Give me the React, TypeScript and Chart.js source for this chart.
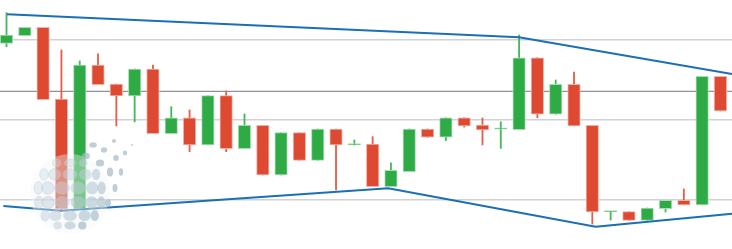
import React, { useEffect, useRef } from "react";
import { Chart, registerables } from "chart.js";

Chart.register(...registerables);

// ---- Data (EURUSD-like candles) ----
const opens = [
  1.12979, 1.13027, 1.13079, 1.12631, 1.11944, 1.12844, 1.12725, 1.1265, 1.12819, 1.12414,
  1.12514, 1.12344, 1.12652, 1.12321, 1.12467, 1.12156, 1.12421, 1.12248, 1.12444, 1.12344,
  1.1235, 1.12083, 1.12177, 1.12444, 1.12392, 1.12514, 1.12469, 1.12442, 1.12439, 1.12889,
  1.12536, 1.12723, 1.12467, 1.11925, 1.11927, 1.11873, 1.11946, 1.11998, 1.11969, 1.12773,
];
const highs = [
  1.13171, 1.13079, 1.13079, 1.12938, 1.12869, 1.12913, 1.12725, 1.12819, 1.12844, 1.12583,
  1.12563, 1.12652, 1.12681, 1.12538, 1.12467, 1.12421, 1.12421, 1.12444, 1.12444, 1.12375,
  1.12396, 1.12233, 1.12444, 1.12444, 1.12514, 1.12514, 1.12513, 1.12489, 1.13031, 1.12889,
  1.1275, 1.128, 1.12467, 1.11929, 1.11927, 1.1195, 1.11998, 1.12069, 1.12773, 1.12773,
];
const lows = [
  1.12958, 1.13027, 1.12627, 1.11927, 1.11944, 1.12721, 1.12463, 1.12488, 1.12414, 1.12414,
  1.12302, 1.12344, 1.12302, 1.12321, 1.12156, 1.12156, 1.12248, 1.12248, 1.12063, 1.12344,
  1.12083, 1.12083, 1.12177, 1.12392, 1.12371, 1.12456, 1.12344, 1.12323, 1.12439, 1.12514,
  1.12536, 1.12463, 1.1185, 1.11875, 1.11873, 1.11873, 1.11925, 1.11969, 1.11969, 1.12556,
];
const closes = [
  1.13031, 1.13079, 1.12627, 1.11944, 1.12844, 1.12721, 1.1265, 1.12819, 1.12414, 1.12514,
  1.12344, 1.12652, 1.12321, 1.12467, 1.12156, 1.12421, 1.12248, 1.12444, 1.12344, 1.12348,
  1.12083, 1.12186, 1.12444, 1.12392, 1.12514, 1.12463, 1.12438, 1.12446, 1.12889, 1.12536,
  1.12723, 1.12463, 1.11925, 1.11928, 1.11873, 1.1195, 1.11998, 1.11969, 1.12773, 1.12556,
];

// trend lines: [candle position, price]
const upperTrendX = [0.03, 27.99, 39.63];
const upperTrendY = [1.13161, 1.13017, 1.12788];
const lowerTrendX = [-0.17, 2.98, 20.85, 32.18, 39.63];
const lowerTrendY = [1.11963, 1.11933, 1.12073, 1.11833, 1.11914];

// horizontal price level
const priceLevel = 1.12679;
// grid levels
const gridLevels = [1.12, 1.125, 1.13];

const X_MIN = -0.355;
const X_MAX = 39.63;
const Y_MIN = 1.1169375;
const Y_MAX = 1.1325;

const RED = "#dd4a31";
const GREEN = "#2eab44";
const RED_EDGE = "#f2b1a6";
const GREEN_EDGE = "#a9dcb2";
const RED_WICK = "#e2614d";
const GREEN_WICK = "#48b95a";
const BLUE = "#1a6fb5";

const globePlugin = {
  id: "globeWatermark",
  afterDatasetsDraw(chart: any) {
    const ctx = chart.ctx as CanvasRenderingContext2D;
    const cx = 70;
    const cy = 194;
    const R = 35;
    ctx.save();
    // faint sphere body
    ctx.fillStyle = "rgba(240,244,247,0.4)";
    ctx.beginPath();
    ctx.arc(cx, cy, R + 5, 0, Math.PI * 2);
    ctx.fill();
    const lats = [-62, -34, -10, 14, 38, 64];
    for (const lat of lats) {
      const lr = (lat * Math.PI) / 180;
      const n = Math.max(3, Math.round(5 * Math.cos(lr)) + 1);
      for (let k = 0; k < n; k++) {
        const lon = -80 + (160 * (k + 0.5)) / n;
        const lo = (lon * Math.PI) / 180;
        const x = cx + R * Math.cos(lr) * Math.sin(lo);
        const y = cy + R * Math.sin(lr);
        const rx = 2 + 5.5 * Math.cos(lo) * Math.sqrt(Math.cos(lr));
        const ry = 2 + 4.4 * Math.cos(lr);
        const t = (lon + 80) / 160 * 0.6 + ((lat + 62) / 126) * 0.4;
        const a = 0.32 + 0.45 * t;
        ctx.fillStyle = `rgba(${Math.round(215 - 52 * t)},${Math.round(225 - 40 * t)},${Math.round(232 - 34 * t)},${a})`;
        ctx.beginPath();
        ctx.ellipse(x, y, rx, ry, 0, 0, Math.PI * 2);
        ctx.fill();
        if (t < 0.45) {
          ctx.strokeStyle = "rgba(180,195,205,0.45)";
          ctx.lineWidth = 0.8;
          ctx.stroke();
        }
      }
    }
    // trailing particles
    const trail = [
      [93, 145, 3.8, 2.8], [104, 150, 3.2, 2.8], [114, 141, 2, 2], [125, 153, 2.2, 2.4],
      [132, 145, 1, 1], [86, 156, 4, 3.2], [100, 163, 4.2, 3.6], [110, 172, 3.2, 4.5],
      [121, 172, 2.2, 3.8], [115, 188, 2.5, 4], [108, 203, 3, 4], [116, 158, 2.8, 3],
    ];
    for (const [x, y, rx, ry] of trail) {
      ctx.fillStyle = "rgba(165,185,198,0.7)";
      ctx.beginPath();
      ctx.ellipse(x, y, rx, ry, 0, 0, Math.PI * 2);
      ctx.fill();
    }
    ctx.restore();
  },
};

export default function App() {
  const ref = useRef<HTMLCanvasElement | null>(null);

  useEffect(() => {
    document.body.style.margin = "0";
    const canvas = ref.current;
    if (!canvas) return;
    const up = closes.map((c, i) => c >= opens[i]);
    const bodies = opens.map((o, i) => ({ x: i, y: [o, closes[i]] }));
    const wicks = lows.map((l, i) => ({ x: i, y: [l, highs[i]] }));

    const chart = new Chart(canvas, {
      type: "bar",
      data: {
        datasets: [
          {
            type: "line",
            label: "level",
            data: [
              { x: X_MIN - 1, y: priceLevel },
              { x: X_MAX + 1, y: priceLevel },
            ],
            borderColor: "rgba(110,110,110,0.75)",
            borderWidth: 1.4,
            pointRadius: 0,
            order: 5,
          } as any,
          {
            label: "wicks",
            data: wicks as any,
            backgroundColor: up.map((u) => (u ? GREEN_WICK : RED_WICK)),
            barThickness: 1.2,
            grouped: false,
            order: 4,
          } as any,
          {
            label: "bodies",
            data: bodies as any,
            backgroundColor: up.map((u) => (u ? GREEN : RED)),
            borderColor: up.map((u) => (u ? GREEN_EDGE : RED_EDGE)),
            borderWidth: 1,
            borderSkipped: false,
            barThickness: 12.5,
            minBarLength: 1.5,
            grouped: false,
            order: 3,
          } as any,
          {
            type: "line",
            label: "upper",
            data: upperTrendX.map((x, i) => ({ x, y: upperTrendY[i] })),
            borderColor: BLUE,
            borderWidth: 2,
            pointRadius: 0,
            order: 1,
          } as any,
          {
            type: "line",
            label: "lower",
            data: lowerTrendX.map((x, i) => ({ x, y: lowerTrendY[i] })),
            borderColor: BLUE,
            borderWidth: 2,
            pointRadius: 0,
            order: 1,
          } as any,
        ],
      },
      options: {
        animation: false,
        responsive: false,
        maintainAspectRatio: false,
        devicePixelRatio: 1,
        layout: { padding: 0 },
        plugins: { legend: { display: false }, tooltip: { enabled: false } },
        scales: {
          x: {
            type: "linear",
            min: X_MIN,
            max: X_MAX,
            offset: false,
            display: false,
          },
          y: {
            type: "linear",
            min: Y_MIN,
            max: Y_MAX,
            display: true,
            afterBuildTicks: (scale: any) => {
              scale.ticks = gridLevels.map((v) => ({ value: v }));
            },
            ticks: { display: false },
            border: { display: false },
            grid: { color: "#d2d2d2", lineWidth: 1.4, drawTicks: false },
          },
        },
      } as any,
      plugins: [globePlugin],
    });
    return () => chart.destroy();
  }, []);

  return (
    <div style={{ position: "fixed", left: 0, top: 0, width: 732, height: 249, background: "#fff" }}>
      <canvas ref={ref} width={732} height={249} style={{ display: "block" }} />
    </div>
  );
}
